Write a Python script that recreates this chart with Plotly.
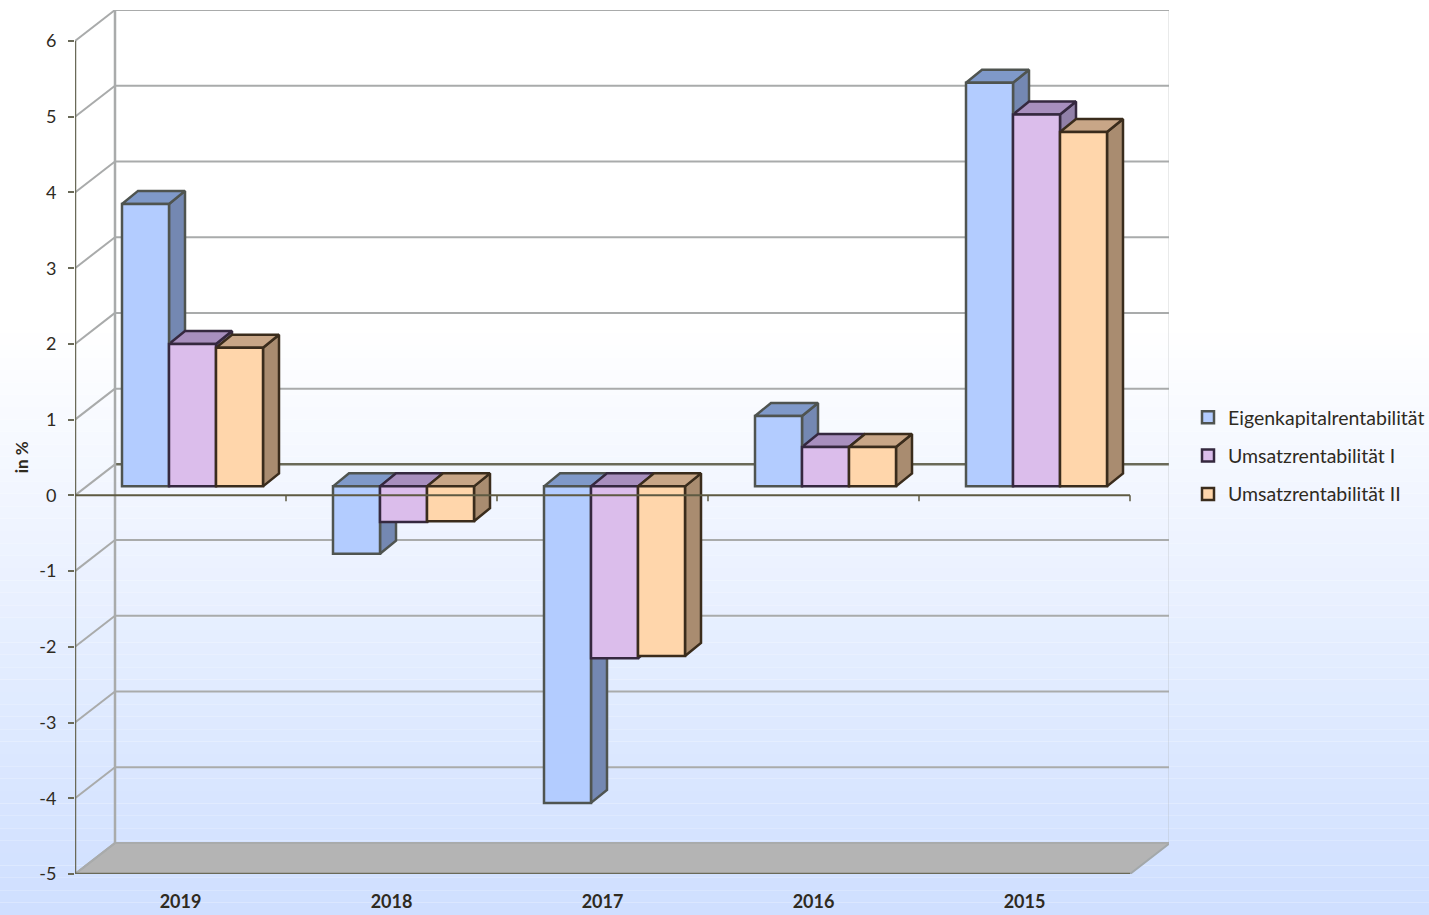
import plotly.graph_objects as go

years = ["2019", "2018", "2017", "2016", "2015"]
names = ["Eigenkapitalrentabilität", "Umsatzrentabilität I", "Umsatzrentabilität II"]
eigenkapital = [3.73, -0.89, -4.18, 0.93, 5.33]
umsatz_1 = [1.88, -0.47, -2.27, 0.52, 4.91]
umsatz_2 = [1.83, -0.46, -2.24, 0.52, 4.68]
series = [eigenkapital, umsatz_1, umsatz_2]
y_ticks = [-5, -4, -3, -2, -1, 0, 1, 2, 3, 4, 5, 6]

front = ["#b3ccff", "#dbbdeb", "#ffd6ab"]
top = ["#7f99c9", "#a88fbe", "#c8a687"]
side = ["#7488b2", "#9180a8", "#a98c70"]
edge = ["#4f5450", "#35283f", "#3a2c1c"]
TEXT = "#2f2b1f"
GRID = "#a9abab"
AXIS = "#6a6a58"

W, H = 1429, 915
L, R, T, B = 75, 1169, 9.5, 874
PX_PER_CAT = 211.0
PX_PER_UNIT = 75.7
WALL_DX = 40 / PX_PER_CAT
WALL_DY = 31 / PX_PER_UNIT
BAR_DX = 16 / PX_PER_CAT
BAR_DY = 13 / PX_PER_UNIT
BAR_W = 47 / PX_PER_CAT
BAR_BASE = 9 / PX_PER_UNIT
GROUP_SHIFT = 12 / PX_PER_CAT
x0 = -0.5
x_front_end = x0 + len(years)
x_range = [x0, x0 + (R - L) / PX_PER_CAT]
y_range = [-5, 6 + WALL_DY]
x_pos = [i + GROUP_SHIFT for i in range(len(years))]

fig = go.Figure()


def line(xs, ys, color, width, axes=("x", "y")):
    fig.add_trace(go.Scatter(x=xs, y=ys, mode="lines", xaxis=axes[0], yaxis=axes[1],
                             line=dict(color=color, width=width), showlegend=False,
                             hoverinfo="skip"))


# floor
fig.add_trace(go.Scatter(
    x=[x0, x_front_end, x_front_end + WALL_DX, x0 + WALL_DX, x0],
    y=[-5, -5, -5 + WALL_DY, -5 + WALL_DY, -5],
    mode="lines", fill="toself", fillcolor="#b4b4b4", line=dict(color="#a3a8aa", width=2),
    showlegend=False, hoverinfo="skip"))

# walls: grid lines on back wall and left wall
for v in y_ticks:
    line([x0, x0 + WALL_DX], [v, v + WALL_DY], GRID, 2)
    c, w = (AXIS, 2.5) if v == 0 else (GRID, 2)
    line([x0 + WALL_DX, x_front_end + WALL_DX], [v + WALL_DY, v + WALL_DY], c, w)
line([x0 + WALL_DX, x0 + WALL_DX], [-5 + WALL_DY, 6 + WALL_DY], GRID, 2.5)
line([x_front_end + WALL_DX, x_front_end + WALL_DX], [-5 + WALL_DY, 6 + WALL_DY], GRID, 2.5)

# depth faces of the bars, drawn series by series
for k, vals in enumerate(series):
    side_x, side_y, top_x, top_y = [], [], [], []
    for xc, v in zip(x_pos, vals):
        xl = xc + (k - 1.5) * BAR_W
        xr = xl + BAR_W
        hi = BAR_BASE + max(v, 0)
        lo = BAR_BASE + min(v, 0)
        side_x += [xr, xr + BAR_DX, xr + BAR_DX, xr, xr, None]
        side_y += [lo, lo + BAR_DY, hi + BAR_DY, hi, lo, None]
        top_x += [xl, xl + BAR_DX, xr + BAR_DX, xr, xl, None]
        top_y += [hi, hi + BAR_DY, hi + BAR_DY, hi, hi, None]
    for xs, ys, col in ((side_x, side_y, side[k]), (top_x, top_y, top[k])):
        fig.add_trace(go.Scatter(x=xs, y=ys, mode="lines", fill="toself", fillcolor=col,
                                 line=dict(color=edge[k], width=2.5), showlegend=False,
                                 hoverinfo="skip"))

# front faces
for k, vals in enumerate(series):
    fig.add_trace(go.Bar(x=x_pos, y=vals, base=BAR_BASE, name=names[k], xaxis="x2", yaxis="y2",
                         marker=dict(color=front[k], line=dict(color=edge[k], width=2.5)),
                         legendgroup=names[k]))

# front axis lines drawn over the bars
ax2 = ("x2", "y2")
line([x0, x0], [-5, 6], AXIS, 2.5, ax2)
line([x0, x_front_end], [-5, -5], AXIS, 2.5, ax2)
line([x0, x_front_end], [0, 0], "#5e5a42", 2, ax2)
tick_x, tick_y = [], []
for i in range(len(years)):
    tick_x += [i + 0.5, i + 0.5, None]
    tick_y += [0, -6 / PX_PER_UNIT, None]
line(tick_x, tick_y, "#5e5a42", 1.5, ax2)

# page background gradient
shapes = []
grad_top, grad_bottom, levels = 320, H, 48
for n in range(levels):
    p0 = grad_top + (grad_bottom - grad_top) * n / levels
    p1 = grad_top + (grad_bottom - grad_top) * (n + 1) / levels
    shade = n / (levels - 1)
    r = round(255 + (207 - 255) * shade)
    g = round(255 + (223 - 255) * shade)
    shapes.append(dict(type="rect", xref="paper", yref="paper", layer="below",
                       x0=-L / (R - L), x1=(W - L) / (R - L),
                       y0=(B - p1) / (B - T), y1=(B - p0) / (B - T),
                       fillcolor=f"rgb({r},{g},255)", line=dict(width=0)))

font = "Lato, Calibri, sans-serif"
fig.update_layout(
    width=W, height=H, autosize=False,
    margin=dict(l=L, r=W - R, t=T, b=H - B, pad=0),
    paper_bgcolor="white", plot_bgcolor="rgba(0,0,0,0)",
    barmode="group", bargap=1 - 3 * BAR_W, bargroupgap=0,
    shapes=shapes,
    font=dict(family=font, color=TEXT, size=16),
    xaxis=dict(range=x_range, tickmode="array", tickvals=list(range(len(years))), ticktext=years,
               showgrid=False, zeroline=False, showline=False, ticks="outside", ticklen=11,
               tickcolor="rgba(0,0,0,0)", automargin=False,
               tickfont=dict(family=font, size=18, color=TEXT, weight="bold")),
    yaxis=dict(range=y_range, tickmode="array", tickvals=y_ticks,
               ticktext=[str(v) for v in y_ticks],
               showgrid=False, zeroline=False, showline=False, ticks="outside", ticklen=6,
               tickwidth=2, tickcolor=AXIS, tickfont=dict(family=font, size=18, color=TEXT),
               ticklabelstandoff=8),
    xaxis2=dict(range=x_range, overlaying="x", visible=False),
    yaxis2=dict(range=y_range, overlaying="y", visible=False),
    legend=dict(xref="container", yref="container", x=1188 / W, y=1 - 398 / H,
                xanchor="left", yanchor="top",
                bgcolor="rgba(0,0,0,0)", tracegroupgap=10, traceorder="grouped",
                font=dict(family=font, size=19.5, color=TEXT)),
    annotations=[dict(text="<b>in %</b>", textangle=-90, xref="paper", yref="paper",
                      x=(21 - L) / (R - L), y=(B - 457) / (B - T), showarrow=False,
                      xanchor="center", yanchor="middle",
                      font=dict(family=font, size=17, color=TEXT))],
)

fig.write_html("out.html", default_width=f"{W}px", default_height=f"{H}px",
               config={"responsive": False, "displayModeBar": False},
               post_script="document.body.style.margin='0';document.documentElement.style.overflow='hidden';")
